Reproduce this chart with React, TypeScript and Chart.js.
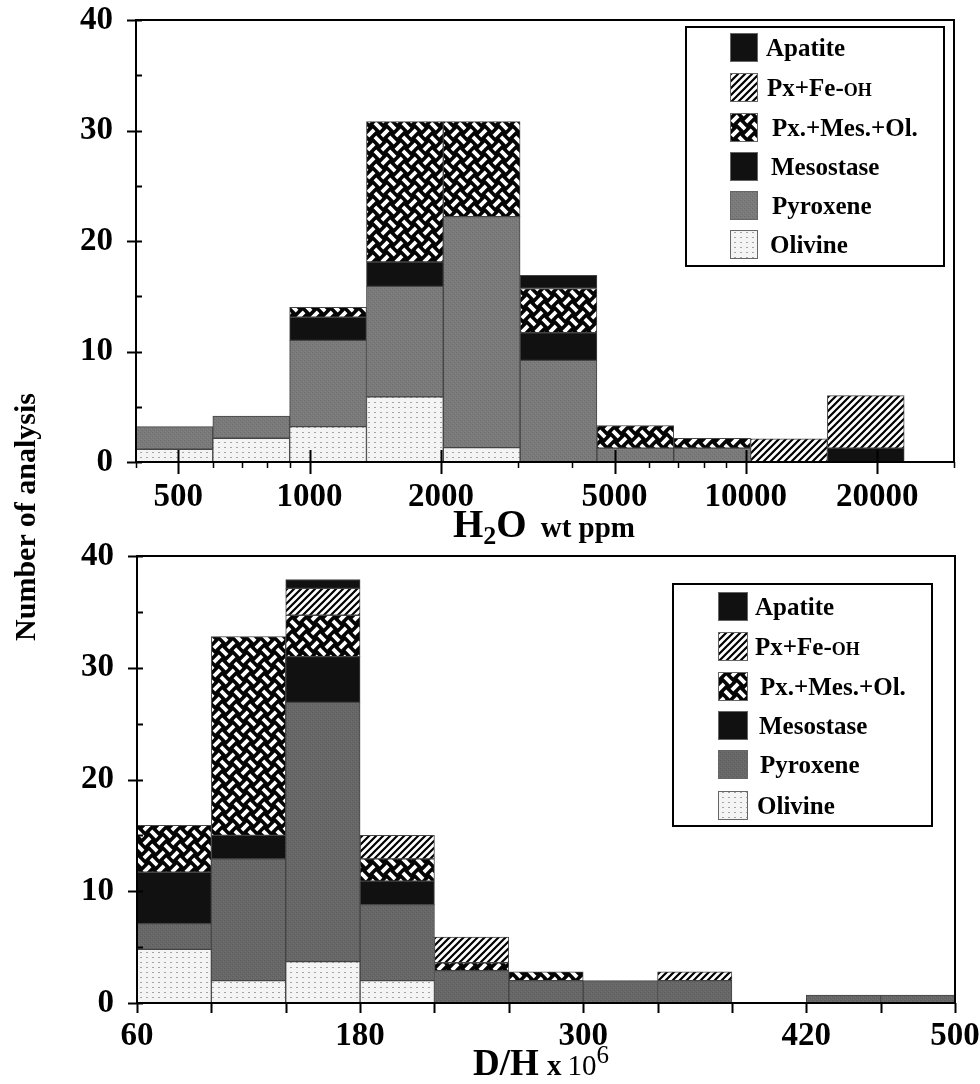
import React, { useEffect, useRef } from 'react';
import { Chart, registerables } from 'chart.js';

Chart.register(...registerables);

const FONT = '"Liberation Serif", "Times New Roman", Times, serif';

// ---------------- data ----------------
const seriesNames = ['Olivine', 'Pyroxene', 'Mesostase', 'Px.+Mes.+Ol.', 'Px+Fe-OH', 'Apatite'];
const legendOrder = ['Apatite', 'Px+Fe-OH', 'Px.+Mes.+Ol.', 'Mesostase', 'Pyroxene', 'Olivine'];

// H2O (wt ppm) histogram, log bins (factor 1.5)
const h2oBinEdges = [400, 600, 900, 1350, 2025, 3037.5, 4556, 6834, 10252, 15377, 23066];
const h2oOlivine = [1.15, 2.15, 3.2, 5.9, 1.3, 0, 0, 0, 0, 0];
const h2oPyroxene = [2.05, 2.0, 7.8, 10.0, 20.9, 9.2, 1.25, 1.25, 0, 0];
const h2oMesostase = [0, 0, 2.1, 2.2, 0, 2.5, 0, 0, 0, 1.25];
const h2oPxMesOl = [0, 0, 0.9, 12.7, 8.6, 4.0, 2.05, 0.9, 0, 0];
const h2oPxFeOH = [0, 0, 0, 0, 0, 0, 0, 0, 2.1, 4.75];
const h2oApatite = [0, 0, 0, 0, 0, 1.2, 0, 0, 0, 0];
const h2oTickLabels = [500, 1000, 2000, 5000, 10000, 20000];
const h2oMinorTicks = [400, 600, 700, 800, 900, 3000, 4000, 6000, 7000, 8000, 9000, 30000];

// D/H x 10^6 histogram
const dhBinEdges = [60, 100, 140, 180, 220, 260, 300, 340, 380, 420, 460, 500];
const dhOlivine = [4.8, 2.0, 3.7, 2.0, 0, 0, 0, 0, 0, 0, 0];
const dhPyroxene = [2.3, 10.9, 23.2, 6.8, 2.9, 2.0, 2.0, 2.0, 0, 0.7, 0.7];
const dhMesostase = [4.6, 2.1, 4.1, 2.1, 0, 0, 0, 0, 0, 0, 0];
const dhPxMesOl = [4.2, 17.8, 3.7, 2.0, 0.7, 0.8, 0, 0, 0, 0, 0];
const dhPxFeOH = [0, 0, 2.4, 2.1, 2.3, 0, 0, 0.8, 0, 0, 0];
const dhApatite = [0, 0, 0.8, 0, 0, 0, 0, 0, 0, 0, 0];
const dhTickLabels = [60, 180, 300, 420, 500];

const yTickLabels = [0, 10, 20, 30, 40];
const yMinorTicks = [5, 15, 25, 35];

// ---------------- patterns ----------------
function tile(w: number, h: number, draw: (g: CanvasRenderingContext2D) => void) {
  const c = document.createElement('canvas');
  c.width = w;
  c.height = h;
  const g = c.getContext('2d') as CanvasRenderingContext2D;
  draw(g);
  return g.createPattern(c, 'repeat') as CanvasPattern;
}

function makePatterns(pyroBase: string) {
  const olivine = tile(6, 5, (g) => {
    g.fillStyle = '#f4f4f4';
    g.fillRect(0, 0, 6, 5);
    g.fillStyle = '#a4a4a4';
    g.fillRect(2, 2, 2, 1);
  });
  const pyroxene = tile(4, 4, (g) => {
    g.fillStyle = pyroBase;
    g.fillRect(0, 0, 4, 4);
    g.fillStyle = 'rgba(0,0,0,0.10)';
    g.fillRect(0, 0, 1, 1);
    g.fillRect(2, 2, 1, 1);
    g.fillStyle = 'rgba(255,255,255,0.08)';
    g.fillRect(1, 3, 1, 1);
    g.fillRect(3, 1, 1, 1);
  });
  const black = '#111111';
  // rotated basket weave: "\" bars on the corners, "/" bar in the middle
  const weave = tile(14, 14, (g) => {
    g.fillStyle = '#050505';
    g.fillRect(0, 0, 14, 14);
    g.strokeStyle = '#ffffff';
    g.lineWidth = 3.8;
    g.lineCap = 'butt';
    const d = 3.1;
    const back: [number, number][] = [
      [0, 0],
      [14, 0],
      [0, 14],
      [14, 14],
    ];
    g.beginPath();
    for (const [cx, cy] of back) {
      g.moveTo(cx - d, cy - d);
      g.lineTo(cx + d, cy + d);
    }
    g.moveTo(7 - d, 7 + d);
    g.lineTo(7 + d, 7 - d);
    g.stroke();
  });
  const hatch = tile(7, 7, (g) => {
    g.fillStyle = '#ffffff';
    g.fillRect(0, 0, 7, 7);
    g.strokeStyle = '#000000';
    g.lineWidth = 2.2;
    g.beginPath();
    g.moveTo(0, 7);
    g.lineTo(7, 0);
    g.moveTo(-1, 1);
    g.lineTo(1, -1);
    g.moveTo(6, 8);
    g.lineTo(8, 6);
    g.stroke();
  });
  // order follows seriesNames
  return [olivine, pyroxene, black, weave, hatch, black];
}

// ---------------- drawing helpers ----------------
type RichItem = { text: string; size: number; weight?: string; dy?: number; gap?: number };

function richWidth(ctx: CanvasRenderingContext2D, items: RichItem[]) {
  let total = 0;
  for (const it of items) {
    ctx.font = `${it.weight || 'bold'} ${it.size}px ${FONT}`;
    total += (it.gap || 0) + ctx.measureText(it.text).width;
  }
  return total;
}

function drawRich(ctx: CanvasRenderingContext2D, items: RichItem[], x0: number, baseline: number) {
  let x = x0;
  ctx.textAlign = 'left';
  ctx.textBaseline = 'alphabetic';
  ctx.fillStyle = '#000';
  for (const it of items) {
    ctx.font = `${it.weight || 'bold'} ${it.size}px ${FONT}`;
    x += it.gap || 0;
    ctx.fillText(it.text, x, baseline + (it.dy || 0));
    x += ctx.measureText(it.text).width;
  }
}

const legendText: Record<string, RichItem[]> = {
  Apatite: [{ text: 'Apatite', size: 25 }],
  'Px+Fe-OH': [
    { text: 'Px+Fe-', size: 25 },
    { text: 'OH', size: 18 },
  ],
  'Px.+Mes.+Ol.': [{ text: 'Px.+Mes.+Ol.', size: 25 }],
  Mesostase: [{ text: 'Mesostase', size: 25 }],
  Pyroxene: [{ text: 'Pyroxene', size: 25 }],
  Olivine: [{ text: 'Olivine', size: 25 }],
};

type DecorCfg = {
  id: string;
  patterns: (CanvasPattern | string)[];
  xMajor: number[];
  xMinor: number[];
  majorUp: number;
  majorDown: number;
  minorDown: number;
  legend: { l: number; t: number; r: number; b: number; sx: number; sw: number; sh: number; rows: number[]; tx: number[] };
  title: RichItem[];
  titleCenter: number;
  titleBaseline: number;
};

function makeDecor(cfg: DecorCfg) {
  return {
    id: cfg.id,
    afterDatasetsDraw(chart: any) {
      const { ctx, chartArea: a } = chart;
      const x = chart.scales.x;
      const y = chart.scales.y;
      ctx.save();
      // frame
      ctx.strokeStyle = '#000';
      ctx.lineWidth = 2;
      ctx.strokeRect(a.left, a.top, a.right - a.left, a.bottom - a.top);
      // y ticks
      ctx.beginPath();
      for (const v of yTickLabels) {
        const py = Math.round(y.getPixelForValue(v)) + 0.5;
        ctx.moveTo(a.left - 9, py);
        ctx.lineTo(a.left + 6, py);
      }
      for (const v of yMinorTicks) {
        const py = Math.round(y.getPixelForValue(v)) + 0.5;
        ctx.moveTo(a.left, py);
        ctx.lineTo(a.left + 6, py);
      }
      ctx.stroke();
      // x ticks
      ctx.beginPath();
      for (const v of cfg.xMajor) {
        const px = Math.round(x.getPixelForValue(v)) + 0.5;
        ctx.moveTo(px, a.bottom - cfg.majorUp);
        ctx.lineTo(px, a.bottom + cfg.majorDown);
      }
      ctx.stroke();
      ctx.lineWidth = 1.5;
      ctx.beginPath();
      for (const v of cfg.xMinor) {
        const px = Math.round(x.getPixelForValue(v)) + 0.5;
        ctx.moveTo(px, a.bottom);
        ctx.lineTo(px, a.bottom + cfg.minorDown);
      }
      ctx.stroke();

      // legend
      const L = cfg.legend;
      ctx.fillStyle = '#fff';
      ctx.fillRect(L.l, L.t, L.r - L.l, L.b - L.t);
      ctx.lineWidth = 2;
      ctx.strokeStyle = '#000';
      ctx.strokeRect(L.l, L.t, L.r - L.l, L.b - L.t);
      legendOrder.forEach((name, i) => {
        const si = seriesNames.indexOf(name);
        const top = L.rows[i];
        ctx.fillStyle = cfg.patterns[si] as any;
        ctx.fillRect(L.sx, top, L.sw, L.sh);
        ctx.lineWidth = 1;
        ctx.strokeStyle = '#666';
        ctx.strokeRect(L.sx + 0.5, top + 0.5, L.sw - 1, L.sh - 1);
        drawRich(ctx, legendText[name], L.tx[i], top + L.sh * 0.78);
      });

      // axis title
      const w = richWidth(ctx, cfg.title);
      drawRich(ctx, cfg.title, cfg.titleCenter - w / 2, cfg.titleBaseline);
      ctx.restore();
    },
  };
}

function buildDatasets(centers: number[], series: number[][], patterns: (CanvasPattern | string)[]) {
  return series.map((vals, si) => ({
    label: seriesNames[si],
    data: centers.map((c, i) => ({ x: c, y: vals[i] })),
    backgroundColor: patterns[si] as any,
    borderColor: '#444444',
    borderWidth: 1,
    borderSkipped: false,
    stack: 'all',
    barPercentage: 1,
    categoryPercentage: 1,
  }));
}

const tickFont = { family: FONT, size: 33, weight: 'bold' as const, lineHeight: 1 };

function xFit(h: number) {
  return (s: any) => {
    s.height = h;
    s.paddingLeft = 0;
    s.paddingRight = 0;
    s.paddingTop = 0;
    s.paddingBottom = 0;
  };
}
function yFit(w: number) {
  return (s: any) => {
    s.width = w;
    s.paddingLeft = 0;
    s.paddingRight = 0;
    s.paddingTop = 0;
    s.paddingBottom = 0;
  };
}

export default function App() {
  const topRef = useRef<HTMLCanvasElement | null>(null);
  const botRef = useRef<HTMLCanvasElement | null>(null);

  useEffect(() => {
    const topPatterns = makePatterns('#7a7a7a');
    const botPatterns = makePatterns('#676767');

    const h2oCenters = h2oBinEdges.slice(0, -1).map((e, i) => Math.sqrt(e * h2oBinEdges[i + 1]));
    const dhCenters = dhBinEdges.slice(0, -1).map((e, i) => (e + dhBinEdges[i + 1]) / 2);

    const topChart = new Chart(topRef.current as HTMLCanvasElement, {
      type: 'bar',
      data: {
        datasets: buildDatasets(
          h2oCenters,
          [h2oOlivine, h2oPyroxene, h2oMesostase, h2oPxMesOl, h2oPxFeOH, h2oApatite],
          topPatterns
        ) as any,
      },
      options: {
        responsive: false,
        animation: false,
        devicePixelRatio: 1,
        layout: { padding: { top: 20, right: 26, left: 0, bottom: 0 } },
        plugins: { legend: { display: false }, tooltip: { enabled: false } },
        scales: {
          x: {
            type: 'logarithmic',
            min: 400,
            max: 30000,
            offset: false,
            stacked: true,
            grid: { display: false, drawTicks: false, offset: false },
            border: { display: false },
            afterBuildTicks: (s: any) => {
              s.ticks = h2oTickLabels.map((v) => ({ value: v }));
            },
            afterFit: xFit(88),
            ticks: {
              autoSkip: false,
              maxRotation: 0,
              padding: 19,
              color: '#000',
              font: tickFont,
              callback: (v: any) => String(v),
            },
          },
          y: {
            type: 'linear',
            min: 0,
            max: 40,
            stacked: true,
            grid: { display: false, drawTicks: false },
            border: { display: false },
            afterBuildTicks: (s: any) => {
              s.ticks = yTickLabels.map((v) => ({ value: v }));
            },
            afterFit: yFit(136),
            ticks: { padding: 23, color: '#000', font: tickFont, callback: (v: any) => String(v) },
          },
        },
      } as any,
      plugins: [
        makeDecor({
          id: 'decorTop',
          patterns: topPatterns,
          xMajor: h2oTickLabels,
          xMinor: h2oMinorTicks,
          majorUp: 12,
          majorDown: 12,
          minorDown: 6,
          legend: {
            l: 686,
            t: 27,
            r: 944,
            b: 266,
            sx: 730,
            sw: 28,
            sh: 29,
            rows: [33, 73, 113, 152, 191, 230],
            tx: [766, 767, 772, 771, 772, 770],
          },
          title: [
            { text: 'H', size: 39 },
            { text: '2', size: 26, dy: 7 },
            { text: 'O', size: 39 },
            { text: 'wt ppm', size: 29, gap: 14 },
          ],
          titleCenter: 544,
          titleBaseline: 537,
        }),
      ],
    });

    const botChart = new Chart(botRef.current as HTMLCanvasElement, {
      type: 'bar',
      data: {
        datasets: buildDatasets(
          dhCenters,
          [dhOlivine, dhPyroxene, dhMesostase, dhPxMesOl, dhPxFeOH, dhApatite],
          botPatterns
        ) as any,
      },
      options: {
        responsive: false,
        animation: false,
        devicePixelRatio: 1,
        layout: { padding: { top: 16, right: 25, left: 0, bottom: 0 } },
        plugins: { legend: { display: false }, tooltip: { enabled: false } },
        scales: {
          x: {
            type: 'linear',
            min: 60,
            max: 500,
            offset: false,
            stacked: true,
            grid: { display: false, drawTicks: false, offset: false },
            border: { display: false },
            afterBuildTicks: (s: any) => {
              s.ticks = dhTickLabels.map((v) => ({ value: v }));
            },
            afterFit: xFit(81),
            ticks: {
              autoSkip: false,
              maxRotation: 0,
              padding: 17,
              color: '#000',
              font: tickFont,
              callback: (v: any) => String(v),
            },
          },
          y: {
            type: 'linear',
            min: 0,
            max: 40,
            stacked: true,
            grid: { display: false, drawTicks: false },
            border: { display: false },
            afterBuildTicks: (s: any) => {
              s.ticks = yTickLabels.map((v) => ({ value: v }));
            },
            afterFit: yFit(137),
            ticks: { padding: 23, color: '#000', font: tickFont, callback: (v: any) => String(v) },
          },
        },
      } as any,
      plugins: [
        makeDecor({
          id: 'decorBot',
          patterns: botPatterns,
          xMajor: dhBinEdges,
          xMinor: [],
          majorUp: 0,
          majorDown: 10,
          minorDown: 0,
          legend: {
            l: 673,
            t: 44,
            r: 932,
            b: 286,
            sx: 718,
            sw: 30,
            sh: 29,
            rows: [52, 92, 132, 171, 210, 251],
            tx: [755, 755, 760, 759, 760, 757],
          },
          title: [
            { text: 'D/H', size: 37 },
            { text: 'x', size: 29, gap: 8 },
            { text: '10', size: 29, weight: 'normal', gap: 6 },
            { text: '6', size: 25, weight: 'normal', dy: -12 },
          ],
          titleCenter: 541,
          titleBaseline: 535,
        }),
      ],
    });

    return () => {
      topChart.destroy();
      botChart.destroy();
    };
  }, []);

  return (
    <div style={{ position: 'absolute', left: 0, top: 0, width: 980, height: 1084, background: '#fff', overflow: 'hidden' }}>
      <canvas ref={topRef} width={980} height={550} style={{ position: 'absolute', left: 0, top: 0, display: 'block' }} />
      <canvas ref={botRef} width={980} height={544} style={{ position: 'absolute', left: 0, top: 540, display: 'block' }} />
      <div
        style={{
          position: 'absolute',
          left: 25 - 170,
          top: 517 - 18,
          width: 340,
          height: 36,
          lineHeight: '36px',
          textAlign: 'center',
          transform: 'rotate(-90deg)',
          fontFamily: FONT,
          fontWeight: 'bold',
          fontSize: 30,
          color: '#000',
          whiteSpace: 'nowrap',
        }}
      >
        Number of analysis
      </div>
    </div>
  );
}
